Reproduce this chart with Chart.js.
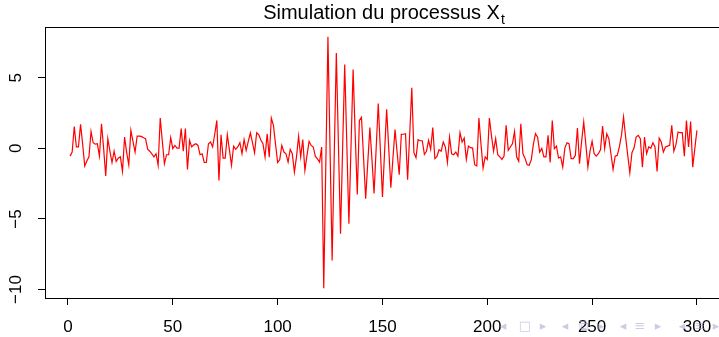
<!DOCTYPE html>
<html>
<head>
<meta charset="utf-8">
<script src="https://cdn.jsdelivr.net/npm/chart.js@4"></script>
<style>
  html, body { margin: 0; padding: 0; background: #fff; overflow: hidden; }
  #wrap { width: 726px; height: 337px; }
</style>
</head>
<body>
<div id="wrap"><canvas id="chart" width="726" height="337"></canvas></div>
<script>
// values of X_t, t = 1..300
const series = [
  -0.55, -0.26, 1.55, 0.1, 0.1, 1.7, 0.3, -1.25, -0.9, -0.6,
  1.2, 0.4, 0.3, 0.33, -0.55, 1.75, 0.0, -1.96, 0.69, -0.2,
  -1.0, -0.2, -0.92, -0.7, -0.6, -1.63, 0.8, -0.3, -1.16, 1.28,
  0.5, -0.26, 0.87, 0.87, 0.85, 0.75, 0.69, -0.05, -0.2, -0.38,
  -0.6, -0.38, -1.2, 2.15, 0.5, -1.09, -0.45, -0.45, 0.76, -0.02,
  0.21, 0.02, 0.02, 1.4, -0.2, 1.4, -1.49, 0.57, 0.1, 0.25,
  0.33, 0.21, -0.45, -0.38, -1.0, -1.0, 0.33, 0.45, 0.1, 1.0,
  1.98, -2.27, 0.97, -0.69, -0.69, 0.97, -0.1, -1.2, 0.16, -0.07,
  0.1, 0.4, -0.38, 0.62, -0.14, 0.5, 1.09, 0.4, -0.31, 1.11,
  0.97, 0.6, 0.33, -0.62, 1.04, -0.62, 2.15, 1.63, 0.3, -1.0,
  -0.8, 0.21, -0.26, -0.38, -0.97, -0.07, -0.38, -1.68, -0.6, 0.87,
  -0.6, 0.62, -1.56, -0.5, 0.5, 0.21, 0.1, -0.57, -0.75, -0.97,
  0.1, -9.9, -1.0, 7.9, 0.0, -7.94, -0.5, 6.76, 0.3, -6.05,
  0.0, 5.94, 0.3, -5.34, 0.1, 5.58, 1.0, -3.26, 1.98, 2.2,
  -0.7, -3.57, -1.0, 1.47, -0.8, -3.2, 0.0, 3.17, -0.1, -3.45,
  -0.3, 2.77, 0.0, -2.79, -0.7, 1.33, -0.3, -1.87, 0.99, 1.0,
  1.04, -2.22, 1.0, 4.3, -0.3, -0.65, 0.62, 0.54, 0.54, -0.43,
  -0.2, 0.57, -0.07, 1.47, -0.73, -0.57, -0.1, -0.2, 0.45, 0.1,
  -1.0, 0.8, -0.38, -0.45, -0.26, -0.55, 1.11, 0.45, 0.73, -0.78,
  0.16, 0.05, 0.02, -1.16, -1.25, 2.15, 0.3, -1.4, -0.6, -0.78,
  2.15, 0.9, -0.2, 0.69, -0.45, -0.6, -0.78, -0.55, 1.63, -0.14,
  0.1, 0.33, 1.2, -0.6, -0.92, 1.75, -0.38, -0.69, -1.16, -1.2,
  -0.8, 0.3, 1.04, 0.8, -0.26, 0.0, -0.6, -0.6, 0.92, -1.0,
  1.98, -0.02, 0.16, -0.69, -0.6, -1.33, 0.02, 0.4, 0.33, -0.73,
  -0.73, -0.5, 1.44, -1.09, 0.5, 1.87, 0.3, -1.33, -0.2, 0.5,
  -0.38, -0.55, -0.38, -0.1, 1.58, -0.02, 1.04, 0.69, -0.4, -1.49,
  -0.55, -0.5, 0.1, 0.92, 2.22, 0.8, -0.5, -1.73, -0.31, 0.02,
  0.8, 0.92, 0.69, -1.33, 0.8, -0.38, 0.1, 0.02, 0.4, 0.1,
  -1.63, 0.73, 0.45, -0.26, 0.1, 0.16, 0.21, 1.63, -0.2, 0.26,
  1.16, 1.11, 1.11, -0.55, 1.98, 0.1, 1.9, -1.33, 0.0, 1.28
];
const xTicks = [0, 50, 100, 150, 200, 250, 300];
const yTicks = [-10, -5, 0, 5];
const titleMain = "Simulation du processus X";
const titleSub = "t";
const navSymbols = ["◂", "□", "▸", "◂", "⧉", "▸", "◂", "≡", "▸", "◂", "≡", "▸"];

const points = series.map((v, i) => ({ x: i + 1, y: v }));

// R-like decorations: box, rotated y labels, title with subscript
const rStyle = {
  id: "rStyle",
  afterDraw(chart) {
    const ctx = chart.ctx;
    const a = chart.chartArea;
    const ys = chart.scales.y;
    ctx.save();
    ctx.strokeStyle = "#000";
    ctx.lineWidth = 1;
    ctx.strokeRect(a.left + 0.5, a.top + 0.5, a.right - a.left, a.bottom - a.top);

    ctx.fillStyle = "#000";
    ctx.font = "17px 'Liberation Sans', Arial, sans-serif";
    ctx.textAlign = "center";
    ctx.textBaseline = "middle";
    yTicks.forEach((v) => {
      const py = ys.getPixelForValue(v);
      ctx.save();
      ctx.translate(16, py);
      ctx.rotate(-Math.PI / 2);
      ctx.fillText(String(v).replace("-", "\u2212"), 0, 0);
      ctx.restore();
    });

    // title
    ctx.textBaseline = "alphabetic";
    ctx.textAlign = "left";
    ctx.font = "20px 'Liberation Sans', Arial, sans-serif";
    const w1 = ctx.measureText(titleMain).width;
    ctx.font = "14px 'Liberation Sans', Arial, sans-serif";
    const w2 = ctx.measureText(titleSub).width;
    const cx = (a.left + a.right) / 2;
    const x0 = cx - (w1 + w2) / 2;
    ctx.font = "20px 'Liberation Sans', Arial, sans-serif";
    ctx.fillText(titleMain, x0, 19);
    ctx.font = "14px 'Liberation Sans', Arial, sans-serif";
    ctx.fillText(titleSub, x0 + w1 + 1, 24);

    // beamer navigation symbols
    ctx.fillStyle = "rgba(160,160,210,0.55)";
    ctx.font = "13px 'DejaVu Sans', sans-serif";
    ctx.textAlign = "center";
    ctx.textBaseline = "middle";
    const navX = [503, 525, 543, 565, 583, 601, 623, 640, 658, 682, 700, 716];
    navSymbols.forEach((s, i) => ctx.fillText(s, navX[i], 327));
    ctx.restore();
  }
};

new Chart(document.getElementById("chart"), {
  type: "line",
  data: {
    datasets: [{
      data: points,
      borderColor: "#ff0000",
      borderWidth: 1.2,
      pointRadius: 0,
      tension: 0,
      fill: false,
    }]
  },
  options: {
    responsive: false,
    animation: false,
    events: [],
    layout: { padding: { top: 27, right: 4, left: 0, bottom: 0 } },
    plugins: {
      legend: { display: false },
      tooltip: { enabled: false },
    },
    scales: {
      x: {
        type: "linear",
        min: -10.96,
        max: 311.96,
        afterBuildTicks: (s) => { s.ticks = xTicks.map((v) => ({ value: v })); },
        afterFit: (s) => { s.height = 39; },
        grid: { drawOnChartArea: false, drawTicks: true, tickLength: 7, tickColor: "#000" },
        border: { display: false },
        ticks: {
          color: "#000",
          padding: 12,
          maxRotation: 0,
          font: { family: "'Liberation Sans', Arial, sans-serif", size: 17 },
        },
      },
      y: {
        min: -10.6,
        max: 8.6,
        afterBuildTicks: (s) => { s.ticks = yTicks.map((v) => ({ value: v })); },
        afterFit: (s) => { s.width = 45; },
        grid: { drawOnChartArea: false, drawTicks: true, tickLength: 7, tickColor: "#000" },
        border: { display: false },
        ticks: { display: false },
      },
    },
  },
  plugins: [rStyle],
});
</script>
</body>
</html>
